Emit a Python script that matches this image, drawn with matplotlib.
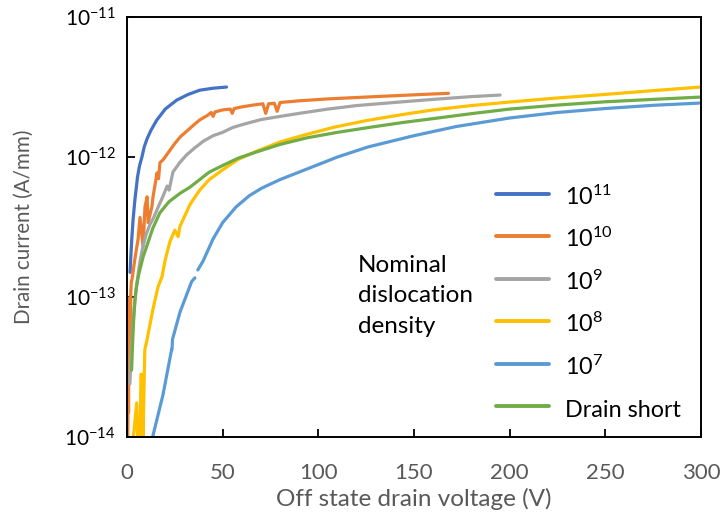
import numpy as np
import matplotlib
matplotlib.use('Agg')
import matplotlib.pyplot as plt

plt.rcParams['font.family'] = ['Lato', 'DejaVu Sans']
plt.rcParams['mathtext.fontset'] = 'custom'
plt.rcParams['mathtext.rm'] = 'Lato'
plt.rcParams['mathtext.it'] = 'Lato:italic'
plt.rcParams['mathtext.bf'] = 'Lato:bold'

# Off-state drain voltage (V) and drain current (A/mm) per dislocation density
v_1e11 = [1.6, 2.0, 2.5, 3.2, 4.1, 5.5, 6.5, 7.8, 9, 10.5, 12.5, 15.5, 20, 26, 32, 38, 45, 52]
i_1e11 = [1.5e-13, 1.95e-13, 2.6e-13, 3.6e-13, 4.9e-13, 7.2e-13, 8.6e-13, 1.0e-12, 1.18e-12,
          1.35e-12, 1.55e-12, 1.83e-12, 2.2e-12, 2.55e-12, 2.8e-12, 3.0e-12, 3.1e-12, 3.16e-12]

v_1e10 = [0.4, 0.6, 0.8, 1.0, 1.2, 1.4, 1.6, 1.8, 2.0, 2.3, 2.6, 4.2, 5.8, 6.8, 8.4, 9.4,
          10.5, 11.0, 13.0, 13.6, 15.7, 16.5, 17.2, 19, 22.5, 25, 28, 31, 35, 38, 42, 44, 45,
          46, 50, 54, 55, 56, 60, 66, 71, 72.5, 74, 77, 78.5, 80, 90, 105, 125, 140, 155, 168]
i_1e10 = [9e-15, 3.5e-14, 1.5e-14, 6e-14, 9e-14, 4e-14, 1.0e-13, 6e-14, 1.1e-13, 1.3e-13,
          1.33e-13, 1.9e-13, 2.6e-13, 3.7e-13, 2.3e-13, 4.4e-13, 5.2e-13, 3.4e-13, 4.4e-13,
          5.2e-13, 7.7e-13, 7.0e-13, 9.1e-13, 9.6e-13, 1.12e-12, 1.25e-12, 1.4e-12, 1.52e-12,
          1.7e-12, 1.84e-12, 1.98e-12, 2.08e-12, 1.95e-12, 2.1e-12, 2.17e-12, 2.2e-12, 2.05e-12,
          2.22e-12, 2.28e-12, 2.35e-12, 2.4e-12, 2.05e-12, 2.4e-12, 2.42e-12, 2.12e-12, 2.45e-12,
          2.52e-12, 2.6e-12, 2.68e-12, 2.74e-12, 2.8e-12, 2.85e-12]

v_1e9 = [1.5, 2, 3, 4, 5, 6.5, 8, 10, 12, 14, 16, 18.7, 21, 22, 24, 27.5, 31, 35, 40, 45,
         50, 55, 60, 70, 80, 90, 105, 120, 141, 160, 180, 195]
i_1e9 = [2.4e-14, 3.5e-14, 6e-14, 9e-14, 1.2e-13, 1.7e-13, 2.2e-13, 2.8e-13, 3.3e-13,
         3.7e-13, 4.3e-13, 5.2e-13, 6.2e-13, 5.8e-13, 7.8e-13, 9.1e-13, 1.03e-12, 1.15e-12,
         1.3e-12, 1.42e-12, 1.5e-12, 1.62e-12, 1.7e-12, 1.85e-12, 1.95e-12, 2.05e-12,
         2.2e-12, 2.33e-12, 2.46e-12, 2.58e-12, 2.7e-12, 2.77e-12]

v_1e8 = [3.3, 5.1, 5.6, 6.8, 7.3, 7.9, 8.3, 9.3, 10.4, 13.5, 16.2, 18.3, 20, 22.5, 25,
         26.7, 27.7, 33, 38, 43, 50, 58, 67, 80, 93, 108, 126, 145, 160, 180, 200, 225,
         250, 275, 300]
i_1e8 = [9.9e-15, 1.75e-14, 9e-15, 9e-15, 2.8e-14, 2.8e-14, 9e-15, 4.2e-14, 4.9e-14,
         8.1e-14, 1.18e-13, 1.4e-13, 1.85e-13, 2.5e-13, 3.0e-13, 2.7e-13, 3.2e-13, 4.6e-13,
         5.8e-13, 6.9e-13, 8.1e-13, 9.6e-13, 1.09e-12, 1.28e-12, 1.44e-12, 1.63e-12,
         1.83e-12, 2.02e-12, 2.17e-12, 2.33e-12, 2.47e-12, 2.64e-12, 2.8e-12, 2.98e-12,
         3.16e-12]

v_1e7 = [13, 18.8, 23.3, 23.5, 23.8, 27.7, 33.8, 35.5, 36.2, 37, 39.7, 45, 50, 57, 64,
         70.5, 80, 93, 110, 126, 150, 172, 200, 225, 250, 275, 300]
i_1e7 = [9.5e-15, 2.0e-14, 4.2e-14, 4.2e-14, 5.0e-14, 7.8e-14, 1.29e-13, 1.37e-13, np.nan,
         1.56e-13, 1.8e-13, 2.6e-13, 3.4e-13, 4.4e-13, 5.3e-13, 6.0e-13, 6.9e-13, 8.1e-13,
         1.0e-12, 1.18e-12, 1.42e-12, 1.65e-12, 1.9e-12, 2.08e-12, 2.22e-12, 2.34e-12,
         2.43e-12]

v_short = [2.4, 2.8, 3.2, 3.7, 4.3, 5.0, 6.0, 7.0, 8.5, 10.3, 13.5, 17.2, 22, 27.7, 33, 38,
           43, 50, 58, 68, 80, 94, 110, 127, 145, 160, 180, 200, 225, 250, 275, 300]
i_short = [3.0e-14, 4.2e-14, 5.8e-14, 7.8e-14, 1.0e-13, 1.2e-13, 1.42e-13, 1.62e-13,
           1.95e-13, 2.3e-13, 3.1e-13, 4.0e-13, 4.8e-13, 5.5e-13, 6.1e-13, 6.9e-13, 7.8e-13,
           8.7e-13, 9.8e-13, 1.09e-12, 1.23e-12, 1.37e-12, 1.5e-12, 1.63e-12, 1.77e-12,
           1.88e-12, 2.04e-12, 2.2e-12, 2.35e-12, 2.48e-12, 2.58e-12, 2.68e-12]

series = [
    (v_1e11, i_1e11, '#4472C4', r'$10^{11}$'),
    (v_1e10, i_1e10, '#ED7D31', r'$10^{10}$'),
    (v_1e9, i_1e9, '#A5A5A5', r'$10^{9}$'),
    (v_1e8, i_1e8, '#FFC000', r'$10^{8}$'),
    (v_1e7, i_1e7, '#5B9BD5', r'$10^{7}$'),
    (v_short, i_short, '#70AD47', 'Drain short'),
]

fig = plt.figure(figsize=(7.23, 5.15), dpi=100)
ax = fig.add_axes([127 / 723, 1 - 437 / 515, (701 - 127) / 723, (437 - 17) / 515])

for v, cur, col, lab in series:
    ax.plot(v, cur, color=col, lw=2.3, label=lab, solid_capstyle='round', solid_joinstyle='round')

ax.set_yscale('log')
ax.set_xlim(0, 300)
ax.set_ylim(1e-14, 1e-11)
ax.set_xticks([0, 50, 100, 150, 200, 250, 300])
ax.set_yticks([1e-14, 1e-13, 1e-12, 1e-11])
ax.set_yticklabels([r'$10^{-14}$', r'$10^{-13}$', r'$10^{-12}$', r'$10^{-11}$'])
ax.yaxis.set_minor_locator(matplotlib.ticker.NullLocator())
ax.tick_params(direction='in', length=6, width=1.3)
ax.tick_params(axis='x', labelsize=16, labelcolor='#595959', pad=19)
ax.tick_params(axis='y', labelsize=15, labelcolor='black', pad=8)
for s in ax.spines.values():
    s.set_linewidth(1.4)

ax.set_xlabel('Off state drain voltage (V)', fontsize=17.5, color='#595959', labelpad=3)
ax.set_ylabel('Drain current (A/mm)', fontsize=14.8, color='#595959', labelpad=22)

leg = ax.legend(loc='upper left', bbox_to_anchor=(0.643, 0.605), frameon=False, fontsize=16.8,
                handlelength=2.27, handleheight=1.5, handletextpad=0.69, labelspacing=0.6,
                borderpad=0, borderaxespad=0)
for ln in leg.get_lines():
    ln.set_linewidth(2.8)

ax.text(0.402, 0.336, 'Nominal\ndislocation\ndensity', transform=ax.transAxes, fontsize=17.5,
        ha='left', va='center', linespacing=1.55)

fig.savefig('out.png', dpi=100)
